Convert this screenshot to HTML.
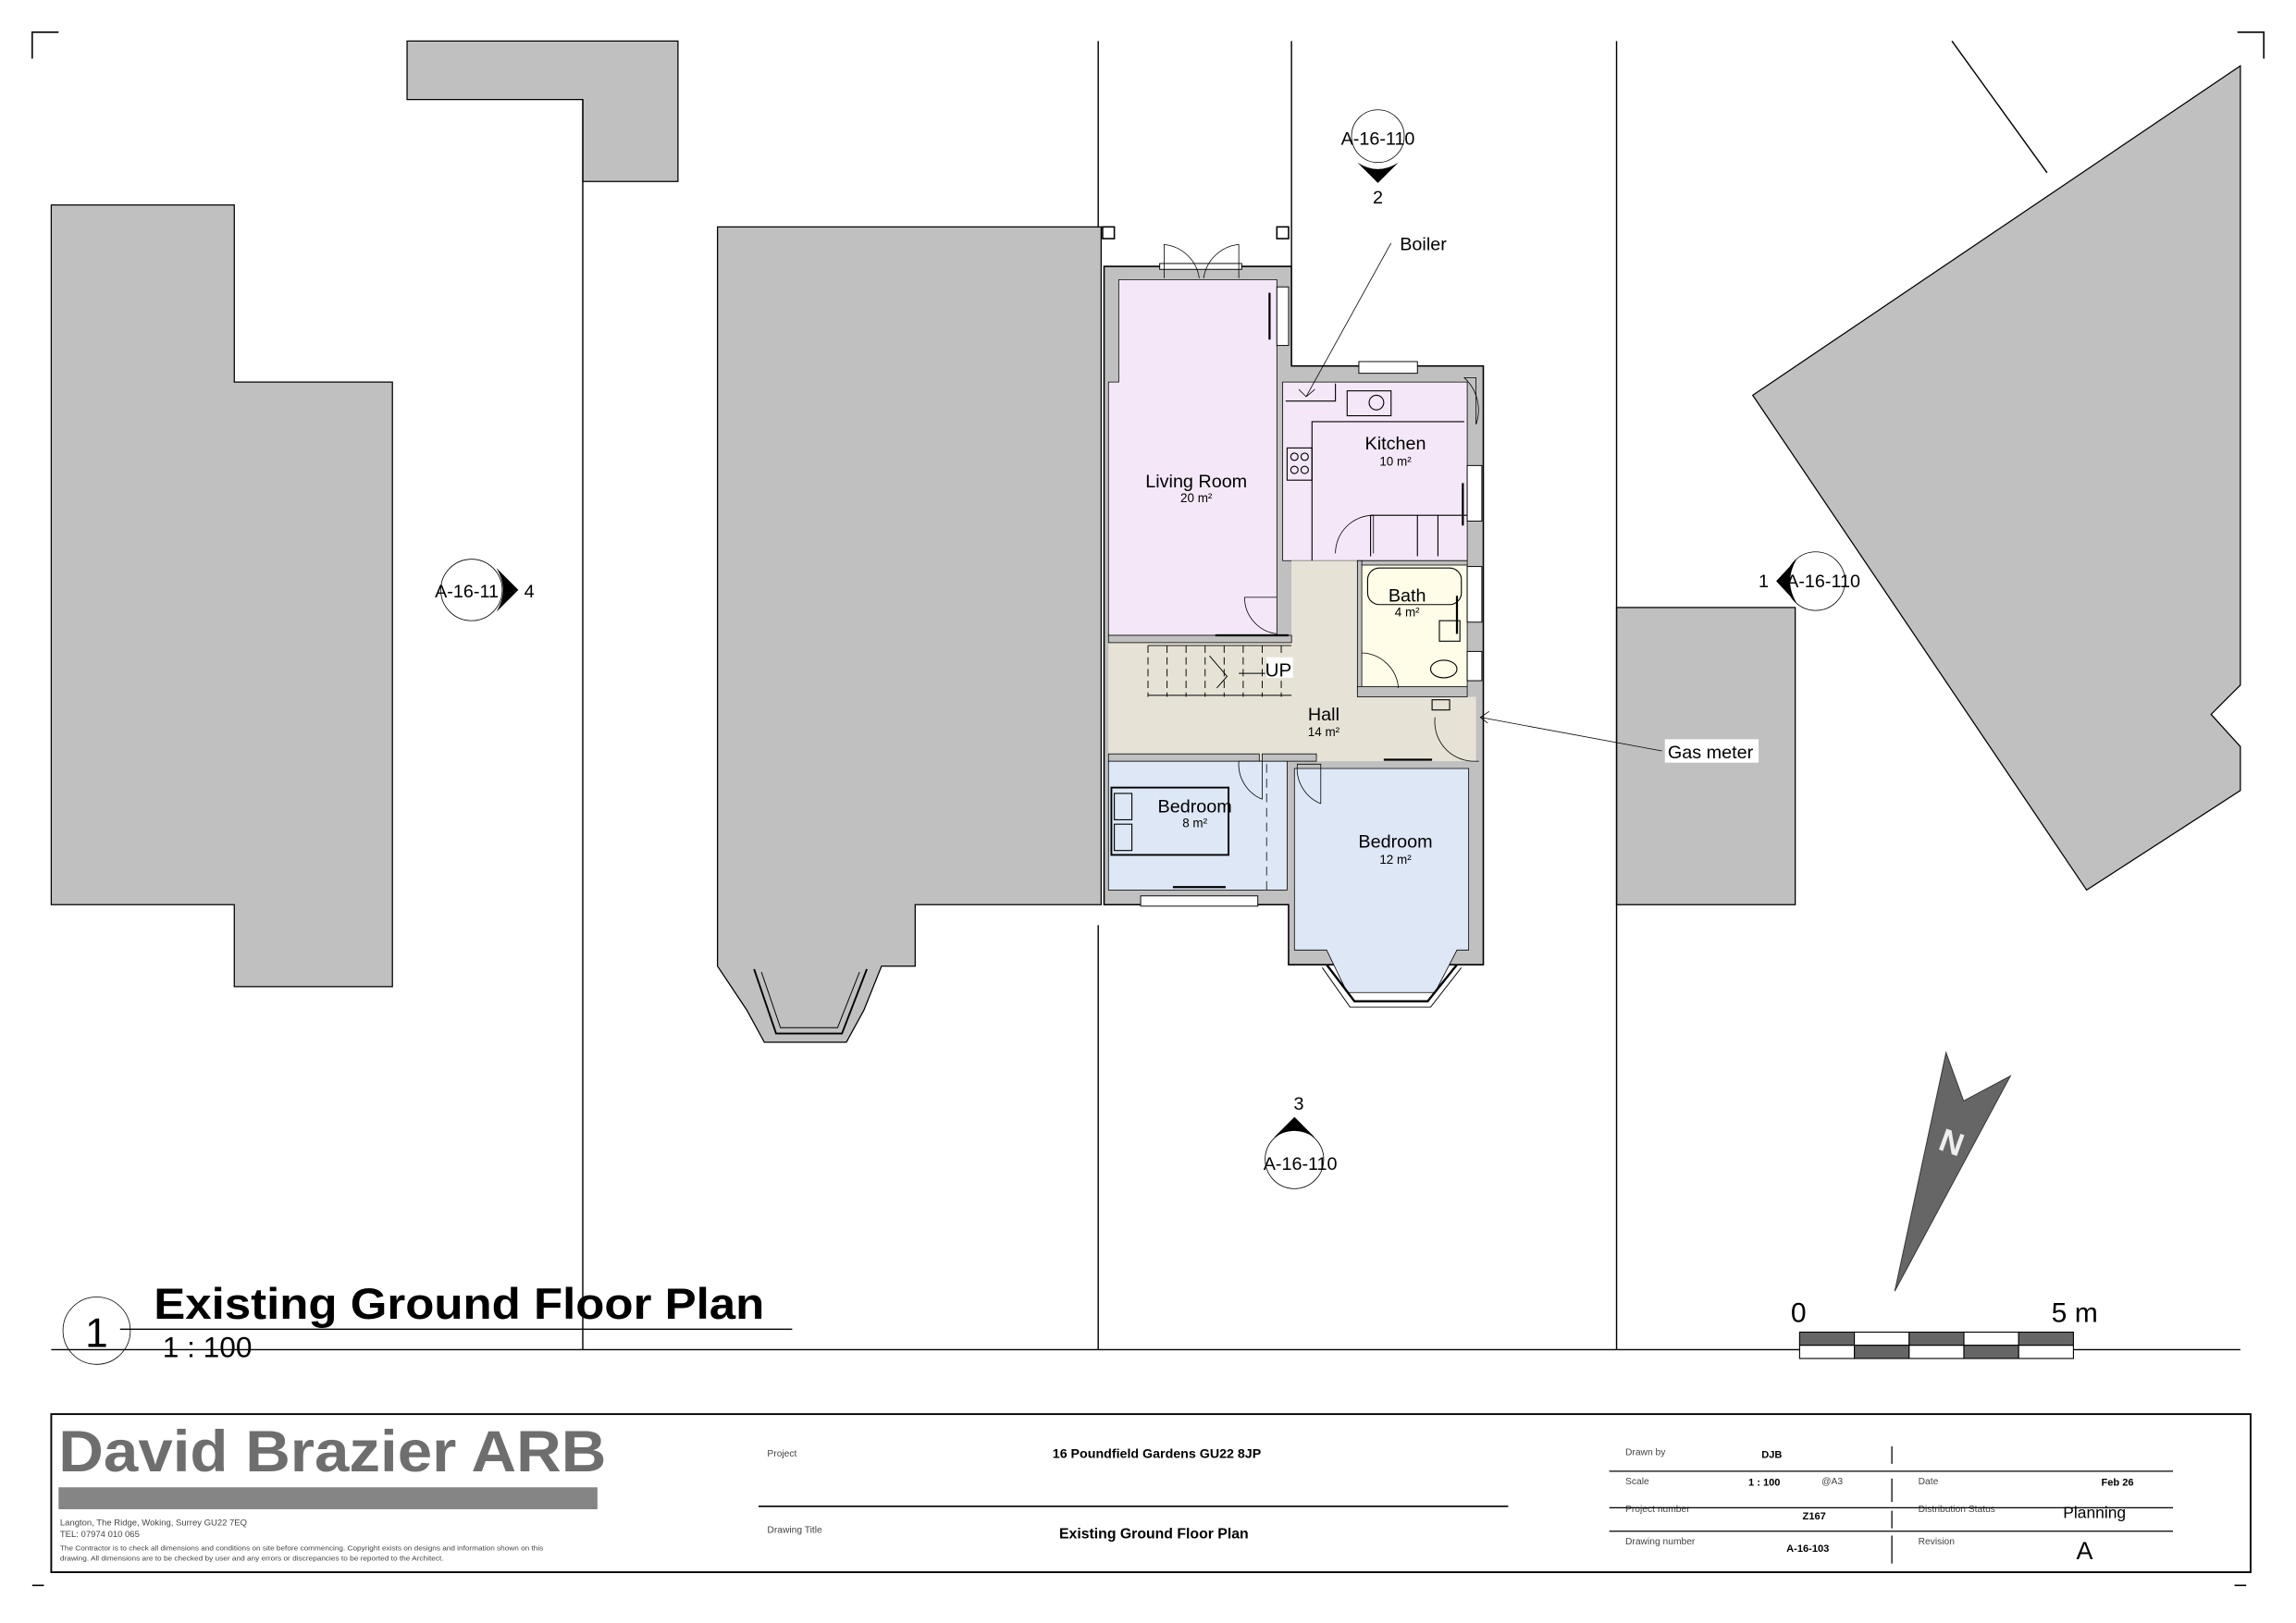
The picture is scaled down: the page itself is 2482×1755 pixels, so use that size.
<!DOCTYPE html>
<html><head><meta charset="utf-8"><style>
html,body{margin:0;padding:0;background:#fff;}
svg{display:block;}
text{font-family:"Liberation Sans",sans-serif;}
</style></head><body>
<svg width="2482" height="1755" viewBox="0 0 1568 1108.7" preserveAspectRatio="none" xmlns="http://www.w3.org/2000/svg">
<rect x="0" y="0" width="1568" height="1109" fill="#fff"/>
<g stroke="#000" stroke-width="1" fill="none">
<path d="M22 40V22H40"/><path d="M1528 22H1546V40"/>
<path d="M22 1083H30"/><path d="M1526 1083H1534"/>
</g>
<g fill="#c0c0c0" stroke="#000" stroke-width="0.8">
<path d="M35 140H160V261H268V674H160V618H35Z"/>
<path d="M278 28H463V124H398V68H278Z"/>
<path d="M1197 270L1530 45V468L1510 488L1530 510V540L1425 608Z"/>
<rect x="1104" y="415" width="122" height="203"/>
<path d="M490 155H752V618H625V660H602L590 690L578 712H522L510 690L490 660Z"/>
</g>
<path d="M515 662L530 706H575L592 662" fill="none" stroke="#000" stroke-width="1.2"/>
<path d="M520 664L533 702H572L587 664" fill="none" stroke="#000" stroke-width="0.6"/>
<g stroke="#000" stroke-width="0.9" fill="none">
<path d="M398 68V922"/><path d="M750 28V155"/><path d="M750 632V922"/>
<path d="M882 28V182"/><path d="M1104 28V922"/>
<path d="M35 922H1530"/><path d="M1333 28L1398 118"/>
</g>
<path d="M754 182H882V250H1013V522H1013V659H880V618H754Z" fill="#c0c0c0" stroke="#000" stroke-width="1"/>
<path d="M764 191H872V434H757V261H764Z" fill="#f4e8f8" stroke="#000" stroke-width="0.5"/>
<path d="M876 261H1002V383H876Z" fill="#f4e8f8" stroke="#000" stroke-width="0.5"/>
<path d="M882 383H927V476H1008V520H757V439H882Z" fill="#e6e3d6" stroke="none"/>
<rect x="930" y="384" width="72" height="85" fill="#fffde8" stroke="#000" stroke-width="0.5"/>
<rect x="757" y="520" width="122" height="88" fill="#dde7f5" stroke="#000" stroke-width="0.5"/>
<path d="M884 525H1003V649H995L980 678H920L906 649H884Z" fill="#dde7f5" stroke="#000" stroke-width="0.5"/>
<path d="M906 659L925 684H975L995 659" fill="none" stroke="#000" stroke-width="1.5"/>
<path d="M903 661L922 688H977L998 661" fill="none" stroke="#000" stroke-width="0.6"/>
<g fill="#c0c0c0" stroke="#000" stroke-width="0.5">
<rect x="757" y="434" width="125" height="5"/>
<rect x="757" y="515" width="103" height="5"/>
<rect x="862" y="515" width="37" height="5"/>
<rect x="927" y="383" width="75" height="3"/>
<rect x="927" y="383" width="3" height="90"/>
<rect x="927" y="469" width="75" height="7"/>
</g>
<g fill="#fff" stroke="#000" stroke-width="0.6">
<rect x="872" y="196" width="8" height="40"/>
<rect x="1002" y="318" width="10" height="38"/>
<rect x="1002" y="387" width="10" height="38"/>
<rect x="1002" y="445" width="10" height="20"/>
<rect x="928" y="247" width="40" height="8"/>
<rect x="779" y="612" width="80" height="7"/>
<rect x="792" y="180" width="56" height="4"/>
</g>
<g stroke="#000" stroke-width="1.4">
<path d="M867 200V232"/><path d="M999 330V359"/><path d="M945 519H978"/><path d="M801 606H837"/><path d="M830 434H880"/><path d="M995 407V433"/>
</g>
<rect x="753" y="155" width="8" height="8" fill="#fff" stroke="#000" stroke-width="1"/>
<rect x="872" y="155" width="8" height="8" fill="#fff" stroke="#000" stroke-width="1"/>
<g fill="none" stroke="#000" stroke-width="0.5">
<path d="M795 190V167A27 27 0 0 1 819 190"/><path d="M846 190V167A27 27 0 0 0 822 190"/>
<path d="M872 408H850A25 25 0 0 0 872 433"/>
<path d="M938 378V352A26 26 0 0 0 912 378"/>
<path d="M1008 290V258H1000A30 30 0 0 1 1008 290"/>
<path d="M1010 520H1005A27 27 0 0 1 980 490"/>
<path d="M862 546V520H846A26 26 0 0 0 862 546"/>
<path d="M902 549V522H886A26 26 0 0 0 902 549"/>
<path d="M930 446A26 26 0 0 1 955 470"/>
<path d="M865 522V608" stroke-dasharray="6 4"/>
</g>
<g stroke="#000" stroke-width="0.6" fill="none">
<path d="M784 441V476M797 441V476M810 441V476M823 441V476M836 441V476M849 441V476M862 441V476M875 441V476" stroke-dasharray="5 3"/>
<path d="M784 475H882M784 441H882"/>
<path d="M826 448L838 462L831 470M846 460H864"/>
</g>
<rect x="865" y="449" width="18" height="14" fill="#fff"/>
<text x="864" y="462" font-size="13">UP</text>
<g fill="none" stroke="#000" stroke-width="0.7">
<rect x="920" y="267" width="30" height="17"/><circle cx="940" cy="275" r="5"/>
<rect x="879" y="306" width="17" height="22"/><circle cx="884" cy="312" r="2.5"/><circle cx="891" cy="312" r="2.5"/><circle cx="884" cy="321" r="2.5"/><circle cx="891" cy="321" r="2.5"/>
<path d="M878 274H912V262M896 383V288H1000"/>
<path d="M936 352V380M968 352V380M982 352V380"/><path d="M936 352H1002"/>
<rect x="934" y="388" width="64" height="25" rx="8"/>
<rect x="983" y="424" width="14" height="14"/>
<ellipse cx="986" cy="457" rx="9" ry="6"/>
<rect x="759" y="538" width="80" height="46" stroke-width="1.2"/>
<rect x="761" y="542" width="12" height="18"/><rect x="761" y="563" width="12" height="18"/>
<path d="M978 478H990V485H978Z"/>
</g>
<g text-anchor="middle" fill="#000">
<text x="817" y="333" font-size="12.5">Living Room</text><text x="817" y="343" font-size="8.5">20 m²</text>
<text x="953" y="307" font-size="12.5">Kitchen</text><text x="953" y="318" font-size="8.5">10 m²</text>
<text x="961" y="411" font-size="12.5">Bath</text><text x="961" y="421" font-size="8.5">4 m²</text>
<text x="904" y="492" font-size="12.5">Hall</text><text x="904" y="503" font-size="8.5">14 m²</text>
<text x="816" y="555" font-size="12.5">Bedroom</text><text x="816" y="565" font-size="8.5">8 m²</text>
<text x="953" y="579" font-size="12.5">Bedroom</text><text x="953" y="590" font-size="8.5">12 m²</text>
</g>
<g stroke="#000" stroke-width="0.5" fill="none">
<path d="M950 166L892 271"/><path d="M887 266L892 271L898 266"/>
<path d="M1135 513L1011 490"/><path d="M1017 486L1011 490L1016 494"/>
</g>
<text x="956" y="171" font-size="12.5">Boiler</text>
<rect x="1137" y="505" width="64" height="16" fill="#fff"/>
<text x="1139" y="518" font-size="12.5">Gas meter</text>
<g fill="none" stroke="#000" stroke-width="0.5">
<circle cx="941" cy="93" r="18"/><circle cx="322" cy="403" r="21"/><circle cx="1240" cy="397" r="20"/><circle cx="884" cy="792" r="20"/>
</g>
<g fill="#000">
<path d="M927 111L941 125L955 111Q941 120 927 111Z"/>
<path d="M339 388L354 403L339 418Q348 403 339 388Z"/>
<path d="M1227 382L1213 397L1227 412Q1218 397 1227 382Z"/>
<path d="M870 777L884 763L898 777Q884 768 870 777Z"/>
</g>
<g font-size="12.5" fill="#000">
<text x="941" y="99" text-anchor="middle">A-16-110</text><text x="941" y="139" text-anchor="middle">2</text>
<text x="297" y="408">A-16-11</text><text x="358" y="408">4</text>
<text x="1220" y="401">A-16-110</text><text x="1201" y="401">1</text>
<text x="888" y="799" text-anchor="middle">A-16-110</text><text x="887" y="758" text-anchor="middle">3</text>
</g>
<path d="M1329 719L1341 752L1373 735L1294 882Z" fill="#666" stroke="#333" stroke-width="0.6"/>
<text x="1333" y="788" font-size="22" font-weight="bold" fill="#eee" text-anchor="middle" transform="rotate(20 1333 780)">N</text>
<g stroke="#000" stroke-width="0.7">
<rect x="1229" y="910" width="37.4" height="9" fill="#666"/><rect x="1266.4" y="910" width="37.4" height="9" fill="#fff"/><rect x="1303.8" y="910" width="37.4" height="9" fill="#666"/><rect x="1341.2" y="910" width="37.4" height="9" fill="#fff"/><rect x="1378.6" y="910" width="37.4" height="9" fill="#666"/>
<rect x="1229" y="919" width="37.4" height="9" fill="#fff"/><rect x="1266.4" y="919" width="37.4" height="9" fill="#666"/><rect x="1303.8" y="919" width="37.4" height="9" fill="#fff"/><rect x="1341.2" y="919" width="37.4" height="9" fill="#666"/><rect x="1378.6" y="919" width="37.4" height="9" fill="#fff"/>
</g>
<text x="1223" y="903" font-size="19">0</text><text x="1401" y="903" font-size="19">5 m</text>
<circle cx="66" cy="909" r="23" fill="none" stroke="#000" stroke-width="0.5"/>
<text x="66" y="920" font-size="28" text-anchor="middle">1</text>
<text x="105" y="901" font-size="30" font-weight="bold" textLength="417" lengthAdjust="spacingAndGlyphs">Existing  Ground Floor Plan</text>
<path d="M82 908H541" stroke="#000" stroke-width="0.8"/>
<text x="111" y="927" font-size="20">1 : 100</text>
<rect x="35" y="966" width="1502" height="108" fill="none" stroke="#000" stroke-width="1.2"/>
<text x="40" y="1005" font-size="40" font-weight="bold" fill="#6e6e6e" textLength="374" lengthAdjust="spacingAndGlyphs">David Brazier ARB</text>
<rect x="40" y="1016" width="368" height="15" fill="#858585"/>
<g font-size="6" fill="#444">
<text x="41" y="1042">Langton, The Ridge, Woking, Surrey GU22 7EQ</text>
<text x="41" y="1050">TEL: 07974 010 065</text>
<text x="41" y="1059" font-size="4.6" textLength="330" lengthAdjust="spacingAndGlyphs">The Contractor is to check all dimensions and conditions on site before commencing. Copyright exists on designs and information shown on this</text>
<text x="41" y="1066" font-size="4.6" textLength="262" lengthAdjust="spacingAndGlyphs">drawing. All dimensions are to be checked by user and any errors or discrepancies to be reported to the Architect.</text>
</g>
<path d="M518 1029H1030" stroke="#000" stroke-width="1"/>
<g font-size="6.5" fill="#444">
<text x="524" y="995">Project</text><text x="524" y="1047">Drawing Title</text>
<text x="1110" y="994">Drawn by</text><text x="1110" y="1014">Scale</text><text x="1110" y="1033">Project number</text><text x="1110" y="1055">Drawing number</text>
<text x="1310" y="1014">Date</text><text x="1310" y="1033">Distribution Status</text><text x="1310" y="1055">Revision</text>
<text x="1244" y="1014">@A3</text>
</g>
<g font-weight="bold" fill="#000">
<text x="790" y="996" font-size="9" text-anchor="middle">16 Poundfield Gardens GU22 8JP</text>
<text x="788" y="1051" font-size="10" text-anchor="middle">Existing Ground Floor Plan</text>
<text x="1203" y="996" font-size="7">DJB</text>
<text x="1194" y="1015" font-size="7">1 : 100</text>
<text x="1231" y="1038" font-size="7">Z167</text>
<text x="1220" y="1060" font-size="7">A-16-103</text>
<text x="1435" y="1015" font-size="7">Feb 26</text>
</g>
<text x="1409" y="1037" font-size="11">Planning</text>
<text x="1418" y="1065" font-size="17">A</text>
<g stroke="#000" stroke-width="0.8">
<path d="M1099 1005H1484M1099 1030H1484M1099 1046H1484"/>
<path d="M1292 988V1000M1292 1010V1026M1292 1032V1044M1292 1049V1068"/>
</g>
</svg>
</body></html>
